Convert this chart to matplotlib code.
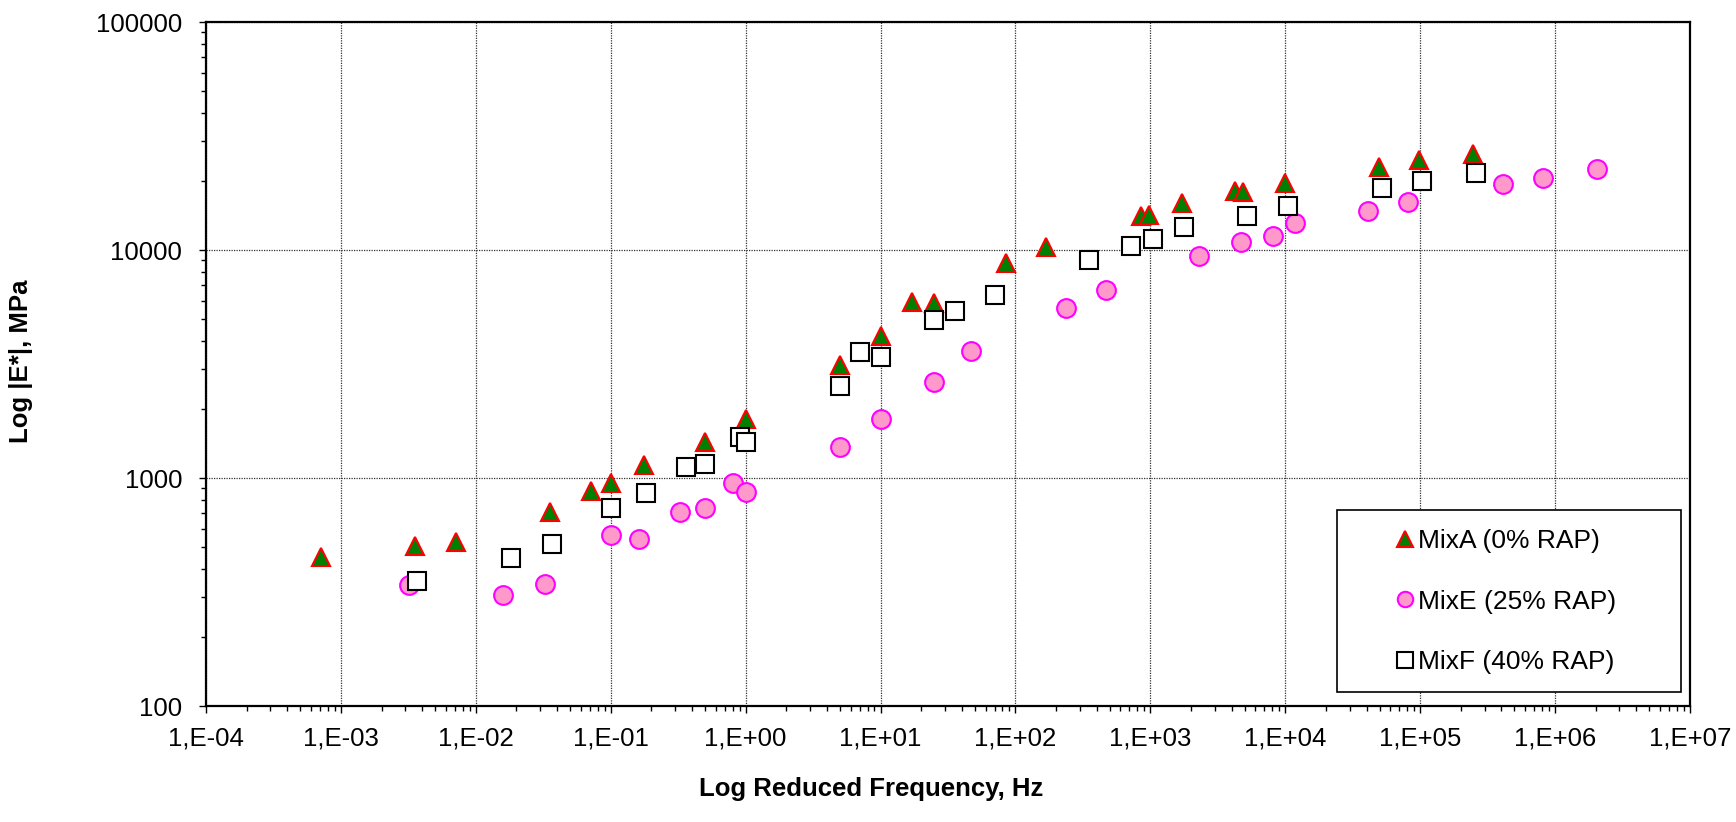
import numpy as np
import matplotlib
matplotlib.use('Agg')
import matplotlib.pyplot as plt
from matplotlib.ticker import FixedLocator, FuncFormatter, LogLocator, NullFormatter
from matplotlib.patches import Rectangle

plt.rcParams['font.family'] = ['Liberation Sans', 'DejaVu Sans']

# data (reduced frequency in Hz, |E*| in MPa)
freq_A = [7.06e-4, 3.55e-3, 7.08e-3, 0.0354, 0.0708, 0.1, 0.176, 0.5, 1.0, 5.0, 10, 17.1,
          24.9, 85.2, 169, 847, 973, 1715, 4250, 4890, 9910, 49700, 98700, 246000]
mod_A = [452, 505, 526, 707, 880, 948, 1140, 1443, 1808, 3130, 4210, 5890,
         5830, 8740, 10300, 14100, 14250, 16100, 18200, 18000, 19600, 23200, 24800, 26500]

freq_E = [3.2e-3, 0.016, 0.0323, 0.1, 0.162, 0.324, 0.5, 0.807, 1.0, 5.0, 10, 24.9,
          47.1, 236, 470, 2300, 4690, 8150, 11750, 40900, 81800, 410000, 820000, 2.05e6]
mod_E = [340, 307, 344, 564, 541, 707, 741, 953, 871, 1368, 1820, 2645,
         3615, 5580, 6655, 9440, 10870, 11520, 13100, 14830, 16300, 19500, 20800, 22650]

freq_F = [3.66e-3, 0.0183, 0.0366, 0.1, 0.182, 0.364, 0.5, 0.908, 1.0, 5.0, 7.08, 10,
          24.9, 35.5, 71, 353, 713, 1042, 1778, 5240, 10450, 52100, 104000, 260000]
mod_F = [352, 444, 515, 741, 857, 1113, 1152, 1508, 1435, 2525, 3570, 3395,
         4930, 5385, 6350, 9040, 10440, 11210, 12580, 14130, 15600, 18650, 20100, 21700]

labels = ['MixA (0% RAP)', 'MixE (25% RAP)', 'MixF (40% RAP)']
x_decades = np.arange(-4, 8)
y_ticks = [100, 1000, 10000, 100000]

fig = plt.figure(figsize=(17.36, 8.22), dpi=100)
ax = fig.add_axes([0.1187, 0.1411, 0.8548, 0.8321])

ax.plot(freq_A, mod_A, linestyle='none', marker='^', markersize=13.5,
        markerfacecolor='#008000', markeredgecolor='#FF0000', markeredgewidth=1.5,
        label=labels[0], zorder=3)
ax.plot(freq_E, mod_E, linestyle='none', marker='o', markersize=13.5,
        markerfacecolor='#FF99CC', markeredgecolor='#FF00FF', markeredgewidth=1.5,
        label=labels[1], zorder=3)
ax.plot(freq_F, mod_F, linestyle='none', marker='s', markersize=13.5,
        markerfacecolor='white', markeredgecolor='black', markeredgewidth=1.5,
        label=labels[2], zorder=3)

ax.set_xscale('log')
ax.set_yscale('log')
ax.set_xlim(1e-4, 1e7)
ax.set_ylim(100, 100000)

ax.xaxis.set_major_locator(FixedLocator(10.0 ** x_decades))
ax.xaxis.set_major_formatter(FuncFormatter(lambda v, p: '1,E%+03d' % int(round(np.log10(v)))))
ax.xaxis.set_minor_locator(LogLocator(base=10, subs=np.arange(2, 10), numticks=100))
ax.xaxis.set_minor_formatter(NullFormatter())
ax.yaxis.set_major_locator(FixedLocator(y_ticks))
ax.yaxis.set_major_formatter(FuncFormatter(lambda v, p: '%d' % v))
ax.yaxis.set_minor_locator(LogLocator(base=10, subs=np.arange(2, 10), numticks=100))
ax.yaxis.set_minor_formatter(NullFormatter())

ax.tick_params(which='major', direction='out', length=5, width=1, labelsize=18.5, pad=9.5)
ax.tick_params(which='minor', direction='out', length=3.6, width=1)
ax.tick_params(axis='y', which='major', pad=12.3)
ax.tick_params(top=False, right=False, which='both')

for s in ax.spines.values():
    s.set_linewidth(1.6)
    s.set_color('black')

ax.grid(True, which='major', color='#333333', linestyle=(0, (1, 1)), linewidth=0.9)

ax.set_xlabel('Log Reduced Frequency, Hz', fontsize=18.5, fontweight='bold')
ax.set_ylabel('Log |E*|, MPa', fontsize=18.5, fontweight='bold')
ax.xaxis.set_label_coords(0.448, -0.104)
ax.yaxis.set_label_coords(-0.1166, 0.504)

# legend box drawn separately so it can be wider than its content
fig.patches.append(Rectangle((0.7702, 0.1582), 0.1981, 0.2214, transform=fig.transFigure,
                             facecolor='white', edgecolor='black', linewidth=1.2, zorder=4))
leg = fig.legend(loc='center', bbox_to_anchor=(0.868, 0.2682), frameon=False,
                 fontsize=19, handlelength=0.6, handletextpad=0.2, labelspacing=1.38,
                 markerscale=0.82)
leg.set_zorder(5)

fig.savefig('out.png', dpi=100)
